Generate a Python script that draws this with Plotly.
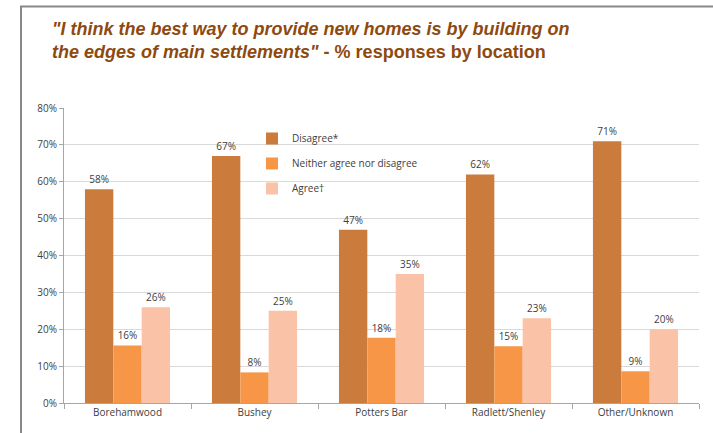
import plotly.graph_objects as go

categories = ["Borehamwood", "Bushey", "Potters Bar", "Radlett/Shenley", "Other/Unknown"]
disagree = [58, 67, 47, 62, 71]
neither = [15.6, 8.3, 17.7, 15.4, 8.6]
agree = [26, 25, 35, 23, 20]
series_names = ["Disagree*", "Neither agree nor disagree", "Agree\u2020"]
colors = ["#CB7B3B", "#F79646", "#FAC2A6"]
y_ticks = [0, 10, 20, 30, 40, 50, 60, 70, 80]

W, H = 713, 433
ml, mr, mt, mb = 64, 14, 108, 30
pw, ph = W - ml - mr, H - mt - mb

fig = go.Figure()
for i, (name, vals) in enumerate(zip(series_names, [disagree, neither, agree])):
    fig.add_trace(go.Bar(
        x=categories, y=vals, name=name, marker_color=colors[i],
        marker_line_width=0,
        text=[f"{v:.0f}%" for v in vals], textposition="outside",
        textfont=dict(family="Open Sans", size=10, color="#404040"),
        cliponaxis=False, legendgroup=f"g{i}",
    ))

def px_x(x):
    return (x - ml) / pw

def px_y(y):
    return (H - mb - y) / ph

fig.update_layout(
    width=W, height=H,
    margin=dict(l=ml, r=mr, t=mt, b=mb, autoexpand=False),
    paper_bgcolor="white", plot_bgcolor="white",
    barmode="group", bargap=0.33, bargroupgap=0,
    showlegend=True,
    legend=dict(x=px_x(252), y=px_y(124), xanchor="left", yanchor="top",
                font=dict(family="Open Sans", size=10, color="#404040"),
                traceorder="grouped", tracegroupgap=6,
                bgcolor="rgba(0,0,0,0)", itemwidth=30),
    title=dict(
        text="<b><i>\"I think the best way to provide new homes is by building on<br>"
             "the edges of main settlements\"</i> - % responses by location</b>",
        x=52 / W, xref="container", xanchor="left",
        y=1 - 35 / H, yref="container", yanchor="top",
        font=dict(family="Liberation Sans", size=18, color="#8E4A0E"),
    ),
    xaxis=dict(
        showline=True, linecolor="#A6A6A6", linewidth=1,
        ticks="outside", tickson="boundaries", ticklen=5, tickcolor="#A6A6A6",
        tickfont=dict(family="Open Sans", size=10, color="#404040"),
        showgrid=False, automargin=False,
    ),
    yaxis=dict(
        range=[0, 80], tickvals=y_ticks, ticktext=[f"{v}%" for v in y_ticks],
        showline=True, linecolor="#A6A6A6", linewidth=1,
        ticks="outside", ticklen=4, tickcolor="#A6A6A6",
        showgrid=True, gridcolor="#D9D9D9", gridwidth=1,
        tickfont=dict(family="Open Sans", size=10, color="#404040"),
        zeroline=False, automargin=False,
    ),
    shapes=[
        dict(type="line", xref="paper", yref="paper", layer="above",
             x0=px_x(21), x1=px_x(21), y0=px_y(H + 10), y1=px_y(6),
             line=dict(color="#888888", width=2)),
        dict(type="line", xref="paper", yref="paper", layer="above",
             x0=px_x(20), x1=px_x(W + 10), y0=px_y(6.5), y1=px_y(6.5),
             line=dict(color="#888888", width=2)),
    ],
)

fig.write_html("out.html", config={"displayModeBar": False},
               post_script="document.body.style.margin='0';")
